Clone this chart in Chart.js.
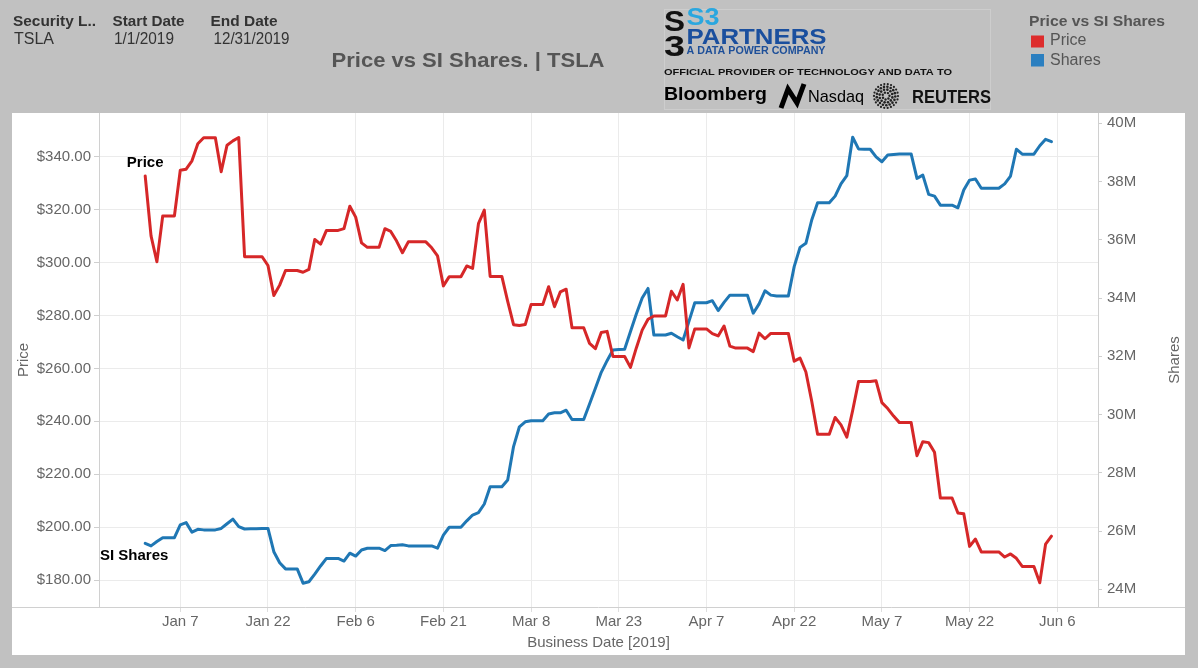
<!DOCTYPE html>
<html><head><meta charset="utf-8">
<script src="https://cdn.jsdelivr.net/npm/chart.js@4.4.1/dist/chart.umd.min.js"></script>
<style>html,body{margin:0;padding:0;background:#c1c1c1;overflow:hidden}canvas{display:block}</style>
</head><body>
<canvas id="c" width="1198" height="668"></canvas>
<script>
// ---- data (one value per calendar day, day 0 = Jan 1 2019) ----
const startDate = '2019-01-01';
const priceValues = [
 332.80,310.12,300.36,317.69,317.69,317.69,334.96,335.35,338.53,344.97,
 347.26,347.26,347.26,334.40,344.43,346.05,347.31,302.26,302.26,302.26,
 302.26,298.92,287.59,291.51,297.04,297.04,297.04,296.38,297.46,308.77,
 307.02,312.21,312.21,312.21,312.89,321.35,317.22,307.51,305.80,305.80,
 305.80,312.84,311.81,308.17,303.77,307.88,307.88,307.88,307.88,305.62,
 302.56,291.23,294.71,294.71,294.71,298.77,297.86,314.74,319.88,294.79,
 294.79,294.79,285.36,276.54,276.24,276.59,284.14,284.14,284.14,290.92,
 283.36,288.96,289.96,275.43,275.43,275.43,269.49,267.47,273.60,274.02,
 264.53,264.53,264.53,260.42,267.77,274.49,278.62,279.86,279.86,279.86,
 289.18,285.88,291.81,267.78,274.96,274.96,274.96,273.20,272.31,276.06,
 268.42,267.70,267.70,267.70,266.38,273.36,271.23,273.26,273.26,273.26,
 273.26,262.75,263.90,258.66,247.63,235.14,235.14,235.14,241.47,238.69,
 234.01,244.10,255.03,255.03,255.03,255.34,247.06,244.84,241.98,239.52,
 239.52,239.52,227.01,232.31,231.95,228.33,211.03,211.03,211.03,205.36,
 205.08,192.73,195.49,190.63,190.63,190.63,190.63,188.70,189.86,188.22,
 185.16,185.16,185.16,178.97,193.60,196.59];
const shareValues = [ // millions
 25.58,25.49,25.64,25.77,25.77,25.77,26.21,26.29,25.96,26.06,
 26.04,26.04,26.04,26.09,26.25,26.41,26.15,26.07,26.08,26.08,
 26.09,26.09,25.29,24.91,24.70,24.70,24.70,24.21,24.26,24.52,
 24.80,25.06,25.06,25.06,24.97,25.24,25.14,25.35,25.41,25.41,
 25.41,25.33,25.50,25.51,25.53,25.49,25.49,25.49,25.49,25.49,
 25.41,25.86,26.13,26.13,26.13,26.35,26.55,26.63,26.93,27.52,
 27.52,27.52,27.75,28.90,29.58,29.75,29.79,29.79,29.79,30.02,
 30.06,30.06,30.15,29.83,29.83,29.83,30.36,30.90,31.45,31.85,
 32.22,32.23,32.24,32.85,33.45,34.00,34.33,32.73,32.73,32.73,
 32.79,32.67,32.56,33.20,33.84,33.84,33.84,33.91,33.57,33.85,
 34.10,34.10,34.10,34.10,33.48,33.80,34.25,34.10,34.07,34.07,
 34.07,35.08,35.74,35.88,36.68,37.27,37.27,37.27,37.50,37.92,
 38.20,39.52,39.12,39.11,39.11,38.85,38.68,38.91,38.93,38.95,
 38.95,38.95,38.11,38.22,37.56,37.50,37.19,37.19,37.19,37.10,
 37.71,38.05,38.09,37.77,37.77,37.77,37.77,37.92,38.19,39.11,
 38.94,38.94,38.94,39.23,39.45,39.37];
const xTickDays = [6,21,36,51,66,81,96,111,126,141,156];
const xTickLabels = ['Jan 7','Jan 22','Feb 6','Feb 21','Mar 8','Mar 23','Apr 7','Apr 22','May 7','May 22','Jun 6'];
const priceTicks = [180,200,220,240,260,280,300,320,340];
const shareTicks = [24,26,28,30,32,34,36,38,40];
const seriesNames = ['Price','Shares'];
const markLabels = ['Price','SI Shares'];

// ---- drawing helpers ----
const FF = '"Liberation Sans", Arial, Helvetica, sans-serif';
function txt(ctx, s, x, y, font, color, align, base, fitW) {
  ctx.save();
  ctx.font = font; ctx.fillStyle = color;
  ctx.textAlign = align || 'left'; ctx.textBaseline = base || 'middle';
  ctx.translate(x, y);
  if (fitW) { const m = ctx.measureText(s).width; ctx.scale(fitW / m, 1); }
  ctx.fillText(s, 0, 0);
  ctx.restore();
}

const chromePlugin = {
  id: 'chrome',
  beforeDraw(chart) {
    const ctx = chart.ctx;
    const W = chart.width, H = chart.height;
    ctx.save();
    ctx.fillStyle = '#c1c1c1'; ctx.fillRect(0, 0, W, H);
    ctx.fillStyle = '#ffffff'; ctx.fillRect(12, 113, 1173, 542);

    // filter header
    txt(ctx, 'Security L..', 13, 21.5, 'bold 15px ' + FF, '#333', 'left', 'middle', 83);
    txt(ctx, 'TSLA', 14, 39.5, '16px ' + FF, '#333');
    txt(ctx, 'Start Date', 112.5, 21.5, 'bold 15px ' + FF, '#333', 'left', 'middle', 72);
    txt(ctx, '1/1/2019', 114, 39.5, '16px ' + FF, '#333', 'left', 'middle', 60);
    txt(ctx, 'End Date', 210.5, 21.5, 'bold 15px ' + FF, '#333', 'left', 'middle', 67);
    txt(ctx, '12/31/2019', 213.5, 39.5, '16px ' + FF, '#333', 'left', 'middle', 76);

    // title
    txt(ctx, 'Price vs SI Shares. | TSLA', 331.5, 61.5, 'bold 21px ' + FF, '#555', 'left', 'middle', 273);

    // logo block
    ctx.strokeStyle = '#cdcdcd'; ctx.lineWidth = 1;
    ctx.strokeRect(664.5, 9.5, 326, 100);
    txt(ctx, 'S', 664, 31, 'bold 30px ' + FF, '#111', 'left', 'alphabetic', 21);
    txt(ctx, '3', 664, 56, 'bold 30px ' + FF, '#111', 'left', 'alphabetic', 21);
    txt(ctx, 'S3', 686.5, 25, 'bold 23px ' + FF, '#2aa7df', 'left', 'alphabetic', 33);
    const g = ctx.createLinearGradient(686, 0, 827, 0);
    g.addColorStop(0, '#1a4f9e'); g.addColorStop(1, '#2a86cf');
    txt(ctx, 'PARTNERS', 686.5, 43.5, 'bold 22px ' + FF, g, 'left', 'alphabetic', 140);
    txt(ctx, 'A DATA POWER COMPANY', 686.5, 54, 'bold 10px ' + FF, '#1d4f99', 'left', 'alphabetic', 139);
    txt(ctx, 'OFFICIAL PROVIDER OF TECHNOLOGY AND DATA TO', 664, 74.5, 'bold 9px ' + FF, '#111', 'left', 'alphabetic', 288);
    txt(ctx, 'Bloomberg', 664, 99.5, 'bold 18px ' + FF, '#000', 'left', 'alphabetic', 103);
    // nasdaq mark
    ctx.strokeStyle = '#000'; ctx.lineWidth = 5; ctx.lineJoin = 'miter';
    ctx.beginPath(); ctx.moveTo(781, 108); ctx.lineTo(788, 89); ctx.lineTo(797, 103); ctx.lineTo(804, 84); ctx.stroke();
    txt(ctx, 'Nasdaq', 808, 101.5, '17px ' + FF, '#000', 'left', 'alphabetic', 56);
    // reuters dots
    ctx.fillStyle = '#222';
    [[3.5, 7, 1.2], [6.5, 12, 1.3], [9.3, 17, 1.3], [12, 22, 1.1]].forEach(([r, n, d]) => {
      for (let i = 0; i < n; i++) {
        const a = i / n * Math.PI * 2 + r;
        ctx.beginPath(); ctx.arc(886 + r * Math.cos(a), 96 + r * Math.sin(a), d, 0, Math.PI * 2); ctx.fill();
      }
    });
    txt(ctx, 'REUTERS', 912, 103.3, 'bold 18px ' + FF, '#111', 'left', 'alphabetic', 79);

    // legend
    txt(ctx, 'Price vs SI Shares', 1029, 22, 'bold 15px ' + FF, '#555', 'left', 'middle', 136);
    ctx.fillStyle = '#dd2c2c'; ctx.fillRect(1031, 35.5, 13, 12);
    txt(ctx, seriesNames[0], 1050, 41, '16px ' + FF, '#555');
    ctx.fillStyle = '#2b7fc0'; ctx.fillRect(1031, 54, 13, 12.5);
    txt(ctx, seriesNames[1], 1050, 60.5, '16px ' + FF, '#555');
    ctx.restore();
  },
  afterDraw(chart) {
    const ctx = chart.ctx, a = chart.chartArea;
    ctx.save();
    // full-width baseline
    ctx.strokeStyle = '#d0d0d0'; ctx.lineWidth = 1;
    ctx.beginPath(); ctx.moveTo(12, Math.round(a.bottom) + 0.5); ctx.lineTo(1185, Math.round(a.bottom) + 0.5); ctx.stroke();
    // axis titles
    const cy = (a.top + a.bottom) / 2;
    ctx.save(); ctx.translate(24, cy); ctx.rotate(-Math.PI / 2);
    txt(ctx, 'Price', 0, 0, '15px ' + FF, '#666', 'center', 'middle'); ctx.restore();
    ctx.save(); ctx.translate(1175, cy); ctx.rotate(-Math.PI / 2);
    txt(ctx, 'Shares', 0, 0, '15px ' + FF, '#666', 'center', 'middle'); ctx.restore();
    txt(ctx, 'Business Date [2019]', (a.left + a.right) / 2, 642.5, '15px ' + FF, '#666', 'center', 'middle');
    // mark labels at first points
    const p0 = chart.getDatasetMeta(0).data[0];
    const s0 = chart.getDatasetMeta(1).data[0];
    txt(ctx, markLabels[0], p0.x, p0.y - 13, 'bold 15px ' + FF, '#000', 'center', 'middle');
    txt(ctx, markLabels[1], s0.x - 11, s0.y + 12.5, 'bold 15px ' + FF, '#000', 'center', 'middle');
    ctx.restore();
  }
};

const tickFont = { family: FF, size: 15 };
new Chart(document.getElementById('c'), {
  type: 'line',
  data: {
    datasets: [
      { label: seriesNames[0], data: priceValues.map((v, i) => ({ x: i, y: v })), yAxisID: 'yP',
        borderColor: '#d62728', borderWidth: 3, pointRadius: 0, tension: 0, borderJoinStyle: 'round', borderCapStyle: 'round' },
      { label: seriesNames[1], data: shareValues.map((v, i) => ({ x: i, y: v })), yAxisID: 'yS',
        borderColor: '#1f77b4', borderWidth: 3, pointRadius: 0, tension: 0, borderJoinStyle: 'round', borderCapStyle: 'round' }
    ]
  },
  options: {
    responsive: false, animation: false, devicePixelRatio: 1,
    layout: { padding: { left: 12, right: 13, top: 113, bottom: 13 } },
    plugins: { legend: { display: false }, tooltip: { enabled: false } },
    scales: {
      x: {
        type: 'linear', min: -7.9, max: 162.96,
        afterBuildTicks: s => { s.ticks = xTickDays.map(v => ({ value: v })); },
        afterFit: s => { s.height = 48; },
        ticks: { autoSkip: false, maxRotation: 0, color: '#666', font: tickFont, padding: 1,
                 callback: (v, i) => xTickLabels[i] },
        grid: { color: '#ebebeb', tickLength: 5, tickColor: '#dedede' },
        border: { display: false }
      },
      yP: {
        position: 'left', min: 169.8, max: 356.6,
        afterBuildTicks: s => { s.ticks = priceTicks.map(v => ({ value: v })); },
        afterFit: s => { s.width = 87; },
        ticks: { autoSkip: false, color: '#666', font: tickFont, padding: 3,
                 callback: v => '$' + Number(v).toFixed(2) },
        grid: { color: '#ebebeb', tickLength: 5, tickColor: '#cfcfcf' },
        border: { display: true, color: '#d0d0d0' }
      },
      yS: {
        position: 'right', min: 23.392, max: 40.354,
        afterBuildTicks: s => { s.ticks = shareTicks.map(v => ({ value: v })); },
        afterFit: s => { s.width = 87; },
        ticks: { autoSkip: false, color: '#666', font: tickFont, padding: 5,
                 callback: v => v + 'M' },
        grid: { drawOnChartArea: false, tickLength: 4, color: '#cfcfcf' },
        border: { display: true, color: '#d0d0d0' }
      }
    }
  },
  plugins: [chromePlugin]
});
</script>
</body></html>
